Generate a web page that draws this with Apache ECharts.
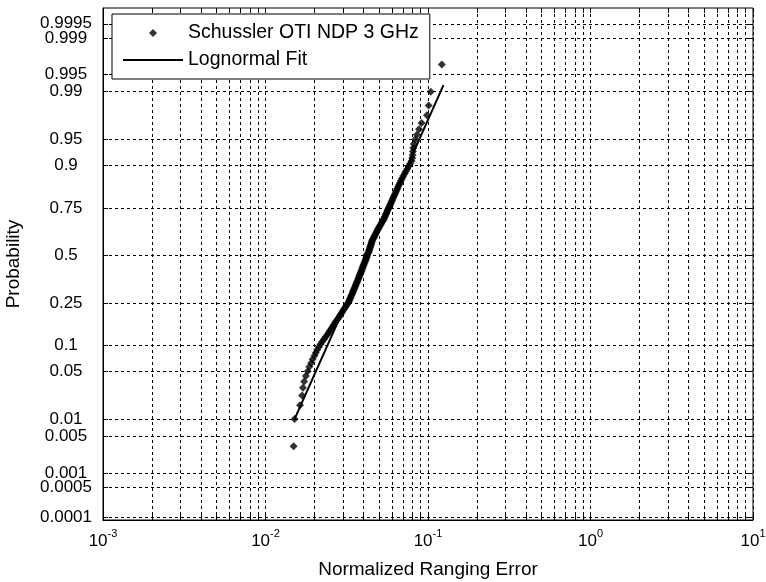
<!DOCTYPE html>
<html>
<head>
<meta charset="utf-8">
<script src="https://cdn.jsdelivr.net/npm/echarts@6/dist/echarts.min.js"></script>
<style>
  html, body { margin: 0; padding: 0; background: #fff; }
  #main { width: 766px; height: 582px; }
</style>
</head>
<body>
<div id="main"></div>
<script>
// sorted normalized ranging errors, plotted at (i-0.5)/n
const errors = [
  0.0149, 0.0151, 0.0163, 0.0168, 0.0170, 0.0173, 0.0177, 0.0182, 0.0186, 0.0191,
  0.0195, 0.0200, 0.0204, 0.0208, 0.0213, 0.0218, 0.0223, 0.0229, 0.0234, 0.0240,
  0.0245, 0.0250, 0.0255, 0.0260, 0.0264, 0.0269, 0.0273, 0.0278, 0.0283, 0.0287,
  0.0292, 0.0296, 0.0300, 0.0305, 0.0309, 0.0314, 0.0318, 0.0323, 0.0326, 0.0329,
  0.0332, 0.0335, 0.0337, 0.0341, 0.0343, 0.0346, 0.0348, 0.0351, 0.0354, 0.0357,
  0.0359, 0.0362, 0.0365, 0.0367, 0.0370, 0.0373, 0.0375, 0.0378, 0.0380, 0.0383,
  0.0386, 0.0388, 0.0391, 0.0393, 0.0396, 0.0398, 0.0401, 0.0403, 0.0406, 0.0409,
  0.0412, 0.0414, 0.0416, 0.0419, 0.0421, 0.0424, 0.0426, 0.0430, 0.0432, 0.0435,
  0.0437, 0.0440, 0.0442, 0.0444, 0.0447, 0.0449, 0.0451, 0.0454, 0.0457, 0.0462,
  0.0465, 0.0470, 0.0474, 0.0478, 0.0482, 0.0487, 0.0491, 0.0496, 0.0501, 0.0506,
  0.0512, 0.0517, 0.0523, 0.0530, 0.0534, 0.0539, 0.0543, 0.0548, 0.0553, 0.0558,
  0.0563, 0.0568, 0.0573, 0.0579, 0.0584, 0.0590, 0.0596, 0.0602, 0.0608, 0.0614,
  0.0621, 0.0628, 0.0635, 0.0642, 0.0649, 0.0657, 0.0665, 0.0674, 0.0682, 0.0693,
  0.0704, 0.0718, 0.0730, 0.0745, 0.0759, 0.0775, 0.0793, 0.0800, 0.0804, 0.0808,
  0.0812, 0.0818, 0.0834, 0.0855, 0.0881, 0.0913, 0.0985, 0.1010, 0.1040, 0.1216
];

// lognormal fit line end points
const fitX = [0.0150, 0.1245];
const fitP = [0.0096, 0.9922];

const xDecades = [0.001, 0.01, 0.1, 1, 10];
const yTickProbs = [0.0001, 0.0005, 0.001, 0.005, 0.01, 0.05, 0.1, 0.25, 0.5,
  0.75, 0.9, 0.95, 0.99, 0.995, 0.999, 0.9995];
const yTickLabels = ['0.0001', '0.0005', '0.001', '0.005', '0.01', '0.05', '0.1', '0.25', '0.5',
  '0.75', '0.9', '0.95', '0.99', '0.995', '0.999', '0.9995'];
const yLimits = [0.000085, 0.99978];

// inverse normal cdf (Acklam)
function norminv(p) {
  const a = [-3.969683028665376e+01, 2.209460984245205e+02, -2.759285104469687e+02,
    1.383577518672690e+02, -3.066479806614716e+01, 2.506628277459239e+00];
  const b = [-5.447609879822406e+01, 1.615858368580409e+02, -1.556989798598866e+02,
    6.680131188771972e+01, -1.328068155288572e+01];
  const c = [-7.784894002430293e-03, -3.223964580411365e-01, -2.400758277161838e+00,
    -2.549732539343734e+00, 4.374664141464968e+00, 2.938163982698783e+00];
  const d = [7.784695709041462e-03, 3.224671290700398e-01, 2.445134137142996e+00,
    3.754408661907416e+00];
  const plow = 0.02425;
  let q, r;
  if (p < plow) {
    q = Math.sqrt(-2 * Math.log(p));
    return (((((c[0] * q + c[1]) * q + c[2]) * q + c[3]) * q + c[4]) * q + c[5]) /
      ((((d[0] * q + d[1]) * q + d[2]) * q + d[3]) * q + 1);
  }
  if (p > 1 - plow) {
    q = Math.sqrt(-2 * Math.log(1 - p));
    return -(((((c[0] * q + c[1]) * q + c[2]) * q + c[3]) * q + c[4]) * q + c[5]) /
      ((((d[0] * q + d[1]) * q + d[2]) * q + d[3]) * q + 1);
  }
  q = p - 0.5;
  r = q * q;
  return (((((a[0] * r + a[1]) * r + a[2]) * r + a[3]) * r + a[4]) * r + a[5]) * q /
    (((((b[0] * r + b[1]) * r + b[2]) * r + b[3]) * r + b[4]) * r + 1);
}

const n = errors.length;
const pointData = errors.map((x, i) => [x, norminv((i + 0.5) / n)]);
const fitData = fitX.map((x, i) => [x, norminv(fitP[i])]);

// ticks 1..9 in each decade
const xTicks = [];
xDecades.forEach((dec, k) => {
  if (k === xDecades.length - 1) { xTicks.push(dec); return; }
  for (let m = 1; m <= 9; m++) xTicks.push(+(dec * m).toPrecision(3));
});
const yTickZ = yTickProbs.map(norminv);
// 0.999 sits right under 0.9995, so it is put on its own axis to keep both labels
const extraIdx = yTickLabels.indexOf('0.999');
const mainLabelZ = yTickZ.filter((z, i) => i !== extraIdx);
const extraLabelZ = [yTickZ[extraIdx]];

function yLabel(v) {
  let best = 0;
  yTickZ.forEach((z, i) => { if (Math.abs(z - v) < Math.abs(yTickZ[best] - v)) best = i; });
  return yTickLabels[best];
}

const font = 'Liberation Sans';
const gridLine = { show: true, lineStyle: { color: '#000', width: 1, type: [3, 3] } };
// legend icons: small diamond / thin line inside a 60x8 box
const diamondIcon = 'path://M0,0L0,0M26,4L30,0L34,4L30,8ZM60,8L60,8';
const lineIcon = 'path://M0,0L0,0M0,3L60,3L60,5L0,5ZM60,8L60,8';

const yLabelStyle = {
  margin: 37, align: 'center', hideOverlap: false,
  showMinLabel: true, showMaxLabel: true,
  fontFamily: font, fontSize: 17, color: '#000', lineHeight: 12,
  formatter: v => yLabel(v)
};

const chart = echarts.init(document.getElementById('main'));
chart.setOption({
  animation: false,
  backgroundColor: '#fff',
  textStyle: { fontFamily: font, color: '#000' },
  grid: {
    left: 103, right: 13, top: 8, bottom: 62,
    outerBoundsMode: 'none', containLabel: false,
    show: true, borderColor: '#000', borderWidth: 1, backgroundColor: 'transparent'
  },
  legend: {
    left: 112, top: 14,
    orient: 'vertical',
    selectedMode: false,
    backgroundColor: '#fff',
    borderColor: '#000', borderWidth: 1,
    padding: [9, 11, 9, 11],
    itemGap: 7,
    itemWidth: 60, itemHeight: 8,
    textStyle: { fontFamily: font, fontSize: 19.5, color: '#000', lineHeight: 20 },
    data: [
      { name: 'Schussler OTI NDP 3 GHz', icon: diamondIcon },
      { name: 'Lognormal Fit', icon: lineIcon }
    ]
  },
  xAxis: [{
    type: 'log', logBase: 10, min: 0.001, max: 10,
    name: 'Normalized Ranging Error', nameLocation: 'middle', nameGap: 40,
    nameTextStyle: { fontFamily: font, fontSize: 19, color: '#000' },
    axisLine: { show: true, onZero: false, lineStyle: { color: '#000' } },
    axisTick: { show: true, inside: true, length: 5, lineStyle: { color: '#000' }, customValues: xTicks },
    axisLabel: {
      customValues: xDecades, margin: 8, color: '#000', hideOverlap: false,
      showMinLabel: true, showMaxLabel: true,
      formatter: v => '{b|10}{s|' + Math.round(Math.log10(v)) + '}',
      rich: {
        b: { fontFamily: font, fontSize: 17, lineHeight: 22, verticalAlign: 'bottom', color: '#000' },
        s: { fontFamily: font, fontSize: 11, lineHeight: 13, verticalAlign: 'top', color: '#000' }
      }
    },
    splitLine: gridLine,
    minorTick: { show: false }
  }, {
    type: 'log', logBase: 10, min: 0.001, max: 10, position: 'top',
    axisLine: { show: false, onZero: false },
    axisTick: { show: true, inside: true, length: 5, lineStyle: { color: '#000' }, customValues: xTicks },
    axisLabel: { show: false },
    splitLine: { show: false }
  }],
  yAxis: [{
    type: 'value', min: norminv(yLimits[0]), max: norminv(yLimits[1]),
    name: 'Probability', nameLocation: 'middle', nameGap: 80,
    nameTextStyle: { fontFamily: font, fontSize: 19, color: '#000' },
    axisLine: { show: true, onZero: false, lineStyle: { color: '#000' } },
    axisTick: { show: true, inside: true, length: 5, lineStyle: { color: '#000' }, customValues: yTickZ },
    axisLabel: Object.assign({ customValues: mainLabelZ }, yLabelStyle),
    splitLine: gridLine
  }, {
    type: 'value', min: norminv(yLimits[0]), max: norminv(yLimits[1]), position: 'right',
    axisLine: { show: false, onZero: false },
    axisTick: { show: true, inside: true, length: 5, lineStyle: { color: '#000' }, customValues: yTickZ },
    axisLabel: { show: false },
    splitLine: { show: false }
  }, {
    type: 'value', min: norminv(yLimits[0]), max: norminv(yLimits[1]), position: 'left',
    axisLine: { show: false, onZero: false },
    axisTick: { show: false },
    axisLabel: Object.assign({ customValues: extraLabelZ }, yLabelStyle),
    splitLine: { show: false }
  }],
  series: [{
    name: 'Schussler OTI NDP 3 GHz',
    type: 'scatter',
    symbol: 'diamond',
    symbolSize: 8,
    itemStyle: { color: '#000' },
    data: pointData,
    z: 3
  }, {
    name: 'Lognormal Fit',
    type: 'line',
    symbol: 'none',
    lineStyle: { color: '#000', width: 2 },
    itemStyle: { color: '#000' },
    data: fitData,
    z: 4
  }]
});
</script>
</body>
</html>
